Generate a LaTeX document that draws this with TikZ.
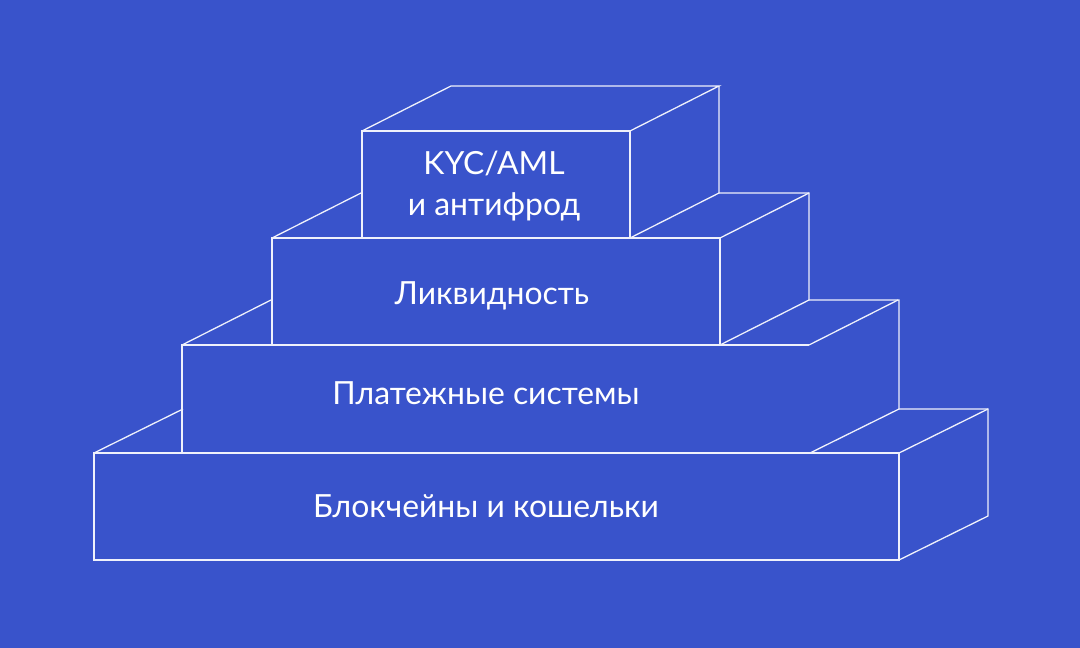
\documentclass[tikz,border=0pt]{standalone}
\usepackage{fontspec}
\setmainfont{Lato}
\definecolor{bgblue}{HTML}{3953CB}

\begin{document}
\begin{tikzpicture}[x=1bp, y=-1bp,
    block edge/.style={draw=white!92!bgblue, line width=1.3bp},
    block label/.style={text=white, font=\fontsize{32}{42}\selectfont, align=center}]
  % background
  \fill[bgblue] (0,0) rectangle (1080,648);
  \useasboundingbox (0,0) rectangle (1080,648);
  % top block
  \draw[block edge] (362,131) rectangle (630,238);
  \draw[block edge] (362,131) -- ++(89,-45) -- ++(268,0) -- ++(-89,45);
  \draw[block edge] (719,86) -- ++(0,107) -- ++(-89,45);
  % second block
  \draw[block edge] (272,238) rectangle (720,345);
  \draw[block edge] (272,238) -- ++(89,-45);
  \draw[block edge] (720,238) -- ++(89,-45);
  \draw[block edge] (719,193) -- (809,193) -- ++(0,107) -- ++(-89,45);
  % third block, no front right edge
  \draw[block edge] (809,345) -- (182,345) -- (182,453);
  \draw[block edge] (182,345) -- ++(89,-45);
  \draw[block edge] (809,345) -- ++(89,-45);
  \draw[block edge] (809,300) -- (899,300) -- ++(0,109) -- ++(-89,44);
  % base block
  \draw[block edge] (94,453) rectangle (899,560);
  \draw[block edge] (94,453) -- ++(89,-44);
  \draw[block edge] (899,453) -- ++(89,-44);
  \draw[block edge] (899,409) -- (988,409) -- ++(0,107) -- ++(-89,44);
  % labels
  \node[block label] (kyc) at (494,186) {KYC/AML\\и антифрод};
  \node[block label, anchor=base] (liquidity) at (492,305) {Ликвидность};
  \node[block label, anchor=base] (payments) at (486,404) {Платежные системы};
  \node[block label, anchor=base] (chains) at (486,517) {Блокчейны и кошельки};
\end{tikzpicture}
\end{document}
